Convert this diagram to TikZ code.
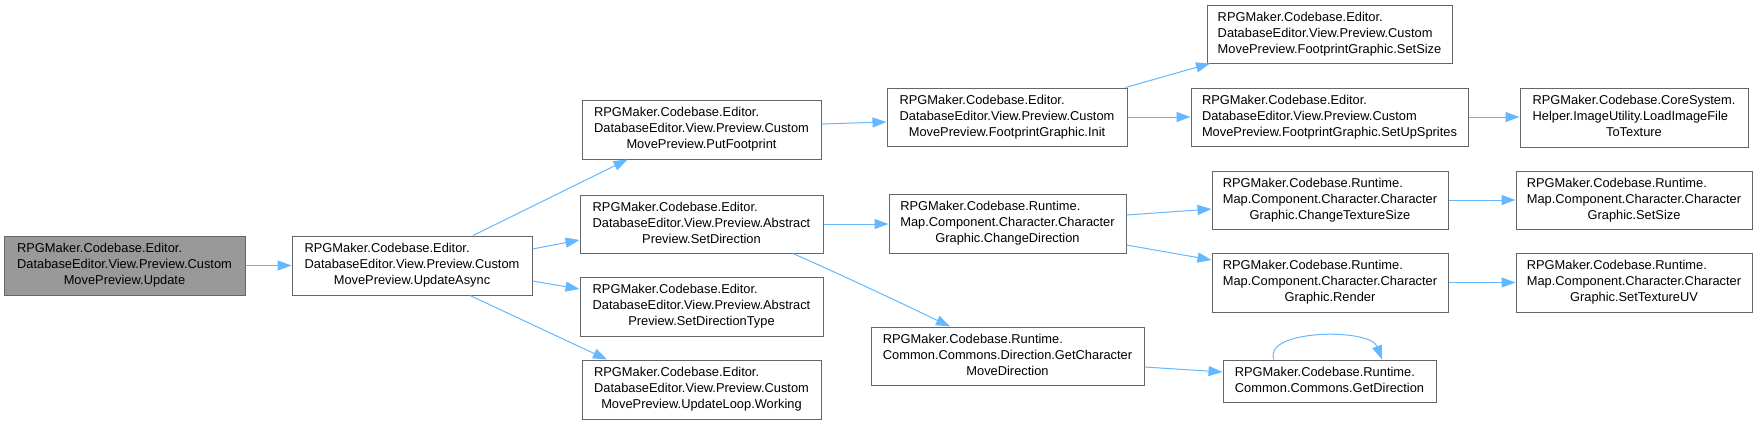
\documentclass[tikz,border=0pt]{standalone}
\usepackage{fontspec}
\setmainfont{Liberation Sans}
\usetikzlibrary{arrows.meta}
\definecolor{edgeblue}{HTML}{63B8FF}
\definecolor{nodeborder}{HTML}{666666}
\definecolor{rootfill}{HTML}{999999}
\newcommand{\threel}[3]{\begin{tabular}{@{}l@{}}#1\\#2\\\multicolumn{1}{@{}c@{}}{#3}\end{tabular}}
\newcommand{\twol}[2]{\begin{tabular}{@{}l@{}}#1\\\multicolumn{1}{@{}c@{}}{#2}\end{tabular}}
\begin{document}
\begin{tikzpicture}[x=1pt,y=-1pt,
  fn/.style={draw=nodeborder, fill=white, line width=1pt, inner sep=0pt,
    font=\fontsize{12.85}{16}\selectfont, text=black},
  root/.style={fn, fill=rootfill},
  call/.style={draw=edgeblue, line width=1pt, -{Triangle[length=14pt,width=10pt,fill=edgeblue]}}]
\useasboundingbox (0,0) rectangle (1758,424);
\fill[white] (0,0) rectangle (1758,424);

% column 1
\node[root, minimum width=241pt, minimum height=59pt] (update) at (124.5,265.5)
  {\threel{RPGMaker.Codebase.Editor.}{DatabaseEditor.View.Preview.Custom}{MovePreview.Update}};
% column 2
\node[fn, minimum width=240pt, minimum height=59pt] (async) at (412,265.5)
  {\threel{RPGMaker.Codebase.Editor.}{DatabaseEditor.View.Preview.Custom}{MovePreview.UpdateAsync}};
% column 3
\node[fn, minimum width=239pt, minimum height=59pt] (put) at (701.5,129.5)
  {\threel{RPGMaker.Codebase.Editor.}{DatabaseEditor.View.Preview.Custom}{MovePreview.PutFootprint}};
\node[fn, minimum width=243pt, minimum height=58pt] (setdir) at (701.5,224)
  {\threel{RPGMaker.Codebase.Editor.}{DatabaseEditor.View.Preview.Abstract}{Preview.SetDirection}};
\node[fn, minimum width=243pt, minimum height=59pt] (setdirtype) at (701.5,306.5)
  {\threel{RPGMaker.Codebase.Editor.}{DatabaseEditor.View.Preview.Abstract}{Preview.SetDirectionType}};
\node[fn, minimum width=239pt, minimum height=59pt] (working) at (701.5,389.5)
  {\threel{RPGMaker.Codebase.Editor.}{DatabaseEditor.View.Preview.Custom}{MovePreview.UpdateLoop.Working}};
% column 4
\node[fn, minimum width=240pt, minimum height=58pt] (init) at (1007,117)
  {\threel{RPGMaker.Codebase.Editor.}{DatabaseEditor.View.Preview.Custom}{MovePreview.FootprintGraphic.Init}};
\node[fn, minimum width=237pt, minimum height=59pt] (chdir) at (1007.5,223.5)
  {\threel{RPGMaker.Codebase.Runtime.}{Map.Component.Character.Character}{Graphic.ChangeDirection}};
\node[fn, minimum width=273pt, minimum height=58pt] (gcmd) at (1007.5,356)
  {\threel{RPGMaker.Codebase.Runtime.}{Common.Commons.Direction.GetCharacter}{MoveDirection}};
% column 5
\node[fn, minimum width=245pt, minimum height=58pt] (fpsize) at (1329.5,34)
  {\threel{RPGMaker.Codebase.Editor.}{DatabaseEditor.View.Preview.Custom}{MovePreview.FootprintGraphic.SetSize}};
\node[fn, minimum width=277pt, minimum height=58pt] (sprites) at (1329.5,117)
  {\threel{RPGMaker.Codebase.Editor.}{DatabaseEditor.View.Preview.Custom}{MovePreview.FootprintGraphic.SetUpSprites}};
\node[fn, minimum width=236pt, minimum height=58pt] (cts) at (1330,200)
  {\threel{RPGMaker.Codebase.Runtime.}{Map.Component.Character.Character}{Graphic.ChangeTextureSize}};
\node[fn, minimum width=236pt, minimum height=59pt] (render) at (1330,282.5)
  {\threel{RPGMaker.Codebase.Runtime.}{Map.Component.Character.Character}{Graphic.Render}};
\node[fn, minimum width=213pt, minimum height=42pt] (getdir) at (1329.5,381)
  {\twol{RPGMaker.Codebase.Runtime.}{Common.Commons.GetDirection}};
% column 6
\node[fn, minimum width=228pt, minimum height=59pt] (loadimg) at (1634,117.5)
  {\threel{RPGMaker.Codebase.CoreSystem.}{Helper.ImageUtility.LoadImageFile}{ToTexture}};
\node[fn, minimum width=236pt, minimum height=58pt] (charsize) at (1634,200)
  {\threel{RPGMaker.Codebase.Runtime.}{Map.Component.Character.Character}{Graphic.SetSize}};
\node[fn, minimum width=236pt, minimum height=59pt] (uv) at (1634,282.5)
  {\threel{RPGMaker.Codebase.Runtime.}{Map.Component.Character.Character}{Graphic.SetTextureUV}};

% connectors
\draw[call] (update.east) -- (async.west);
\draw[call] ([xshift=61pt]async.north) -- ([xshift=-74pt]put.south);
\draw[call] ([yshift=16.5pt]async.east) -- ([yshift=-16pt]setdir.west);
\draw[call] ([yshift=-15.5pt]async.east) -- ([yshift=17.5pt]setdirtype.west);
\draw[call] ([xshift=58pt]async.south) -- ([xshift=-94.5pt]working.north);
\draw[call] ([yshift=5.5pt]put.east) -- ([yshift=-5pt]init.west);
\draw[call] (setdir.east) -- (chdir.west |- setdir.east);
\draw[call] ([xshift=91.5pt]setdir.south) .. controls +(52,23) and +(-52,-25) .. ([xshift=-57.5pt]gcmd.north);
\draw[call] ([xshift=-2pt]init.north east) -- ([xshift=-119.5pt]fpsize.south);
\draw[call] (init.east) -- (sprites.west);
\draw[call] ([yshift=8.5pt]chdir.east) -- ([yshift=-9pt]cts.west);
\draw[call] ([yshift=-21.5pt]chdir.east) -- ([yshift=22.5pt]render.west);
\draw[call] ([yshift=-11pt]gcmd.east) -- ([yshift=9pt]getdir.west);
\draw[call] ([xshift=-55.5pt]getdir.north) .. controls +(-12,-30) and +(-12,-32) .. ([xshift=52.5pt]getdir.north);
\draw[call] (sprites.east) -- (loadimg.west |- sprites.east);
\draw[call] (cts.east) -- (charsize.west);
\draw[call] (render.east) -- (uv.west);
\end{tikzpicture}
\end{document}
